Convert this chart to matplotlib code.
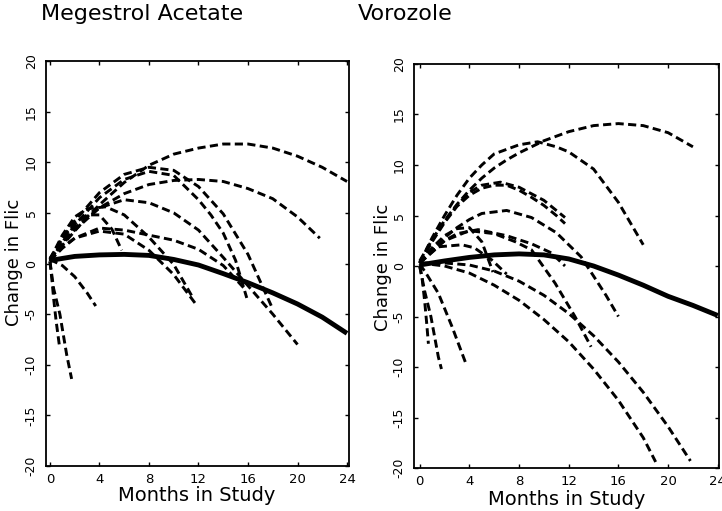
import matplotlib
matplotlib.use("Agg")
import matplotlib.pyplot as plt

# ---------------- data ----------------
xticks = [0, 4, 8, 12, 16, 20, 24]
yticks = [-20, -15, -10, -5, 0, 5, 10, 15, 20]
titles = ["Megestrol Acetate", "Vorozole"]
xlabel = "Months in Study"
ylabel = "Change in Flic"

# Megestrol Acetate: individual patient curves (dashed)
ma01_t = [0, 1, 2, 3, 4, 6, 8, 10, 12, 14, 16, 18, 20, 22, 24]
ma01_y = [0.5, 1.8, 3.2, 4.6, 5.8, 8.0, 9.7, 10.8, 11.4, 11.8, 11.8, 11.4, 10.6, 9.5, 8.1]
ma02_t = [0, 1, 2, 4, 6, 8, 10, 12, 14, 16, 18, 20, 21.8]
ma02_y = [0.3, 1.9, 3.3, 5.5, 6.9, 7.8, 8.2, 8.3, 8.1, 7.4, 6.4, 4.6, 2.5]
ma03_t = [0, 1, 2, 4, 6, 8, 10, 12, 14, 16, 18]
ma03_y = [0.5, 2.5, 4.2, 7.0, 8.8, 9.5, 9.2, 7.6, 4.9, 0.9, -4.5]
ma04_t = [0, 1, 2, 4, 6, 8, 10, 12, 13, 14, 15, 15.9]
ma04_y = [0.2, 2.1, 3.8, 6.5, 8.3, 9.1, 8.7, 6.3, 4.8, 3.0, 0.3, -3.4]
ma05_t = [0, 1, 2, 4, 6, 8, 10, 12, 14, 16, 18, 20]
ma05_y = [0.3, 2.0, 3.5, 5.5, 6.3, 6.0, 5.0, 3.3, 0.6, -2.2, -5.0, -8.0]
ma06_t = [0, 1, 2, 4, 6, 8, 10, 12, 14, 15.8]
ma06_y = [0.3, 1.5, 2.5, 3.5, 3.3, 2.8, 2.3, 1.4, -0.2, -2.6]
ma07_t = [0, 1, 2, 3, 4.5, 6, 8, 10, 11.6]
ma07_y = [0.4, 2.8, 4.6, 5.4, 5.6, 4.8, 2.6, -0.1, -3.5]
ma08_t = [0, 1, 2, 4, 6, 8, 10, 11.9]
ma08_y = [0.3, 1.6, 2.5, 3.2, 2.9, 1.3, -1.1, -4.2]
ma09_t = [0, 1, 2, 3, 4, 5, 5.8]
ma09_y = [0.4, 2.4, 3.9, 4.8, 4.8, 3.4, 1.3]
ma10_t = [0, 0.15, 0.3, 0.5, 0.75]
ma10_y = [0.2, -1.5, -3.5, -5.7, -8.0]
ma11_t = [0, 0.3, 0.8, 1.35, 1.75]
ma11_y = [0.2, -2.5, -5.0, -9.0, -11.4]
ma12_t = [0, 1, 2, 3, 3.7]
ma12_y = [0.4, -0.2, -1.3, -2.9, -4.2]
# Megestrol Acetate: mean curve (solid)
ma_mean_t = [0, 2, 4, 6, 8, 10, 12, 14, 16, 18, 20, 22, 24]
ma_mean_y = [0.3, 0.7, 0.85, 0.9, 0.8, 0.4, -0.15, -1.0, -1.9, -2.9, -4.0, -5.3, -6.9]

# Vorozole: individual patient curves (dashed)
vo01_t = [0, 1, 2, 3, 4, 5, 6, 7, 8, 9, 10, 12, 14, 16, 18, 20, 22]
vo01_y = [0.5, 2.6, 4.5, 6.1, 7.5, 8.7, 9.7, 10.5, 11.2, 11.8, 12.4, 13.3, 13.9, 14.1, 13.9, 13.2, 11.8]
vo02_t = [0, 1, 2, 3, 4, 5, 6, 8, 9.5, 11, 12, 14, 16, 18]
vo02_y = [0.3, 2.8, 5.0, 7.0, 8.7, 10.0, 11.1, 12.0, 12.3, 11.8, 11.3, 9.6, 6.3, 2.1]
vo03_t = [0, 1, 2, 3, 4, 5, 6.5, 8, 10, 11.7]
vo03_y = [0.3, 2.5, 4.4, 6.0, 7.3, 8.0, 8.3, 7.8, 6.5, 4.8]
vo04_t = [0, 1, 2, 3, 4, 5, 6, 7, 8, 9, 10, 11, 11.7]
vo04_y = [0.3, 2.4, 4.3, 5.9, 7.0, 7.7, 8.0, 8.0, 7.5, 6.8, 6.0, 5.0, 4.2]
vo05_t = [0, 1, 2, 3, 4, 5, 7, 9, 11, 13, 15, 16]
vo05_y = [0.3, 1.6, 2.8, 3.8, 4.6, 5.2, 5.5, 4.8, 3.3, 0.9, -2.9, -5.0]
vo06_t = [0, 1, 2, 3, 4.7, 7, 9, 10.6, 11.7]
vo06_y = [0.3, 1.5, 2.5, 3.2, 3.6, 3.0, 2.2, 1.3, 0.0]
vo07_t = [0, 2, 4, 6, 7.7, 9, 10.9, 12.5, 13.8]
vo07_y = [0.3, 2.5, 3.5, 3.2, 2.4, 1.6, -1.7, -5.0, -8.0]
vo08_t = [0, 1, 2, 3, 4, 5, 5.9]
vo08_y = [0.3, 1.8, 3.0, 3.7, 3.8, 2.4, -0.6]
vo09_t = [0, 1.5, 3.4, 4.4, 5.8, 7]
vo09_y = [0.3, 1.9, 2.1, 1.8, 0.6, -0.8]
vo10_t = [0, 2, 4, 6, 8, 10, 12, 14, 16, 18, 20, 21.8]
vo10_y = [0.3, 0.3, 0.1, -0.5, -1.5, -2.9, -4.7, -6.9, -9.5, -12.5, -15.9, -19.3]
vo11_t = [0, 2, 4, 6, 8, 10, 12, 14, 16, 18, 19]
vo11_y = [0.3, 0.0, -0.7, -1.9, -3.4, -5.3, -7.5, -10.2, -13.3, -17.0, -19.4]
vo12_t = [0, 0.2, 0.4, 0.55, 0.7]
vo12_y = [0.0, -1.3, -3.5, -5.5, -7.7]
vo13_t = [0, 0.4, 0.9, 1.5, 1.75]
vo13_y = [0.0, -2.5, -5.0, -9.0, -10.2]
vo14_t = [0, 0.5, 1.5, 2.6, 3.7]
vo14_y = [0.2, -0.7, -2.7, -6.0, -9.6]
# Vorozole: mean curve (solid)
vo_mean_t = [0, 2, 4, 6, 8, 10, 12, 14, 16, 18, 20, 22, 24]
vo_mean_y = [0.1, 0.5, 0.85, 1.1, 1.2, 1.1, 0.7, 0.0, -0.9, -1.9, -3.0, -3.9, -4.9]

ma_curves = [(ma01_t, ma01_y), (ma02_t, ma02_y), (ma03_t, ma03_y), (ma04_t, ma04_y),
             (ma05_t, ma05_y), (ma06_t, ma06_y), (ma07_t, ma07_y), (ma08_t, ma08_y),
             (ma09_t, ma09_y), (ma10_t, ma10_y), (ma11_t, ma11_y), (ma12_t, ma12_y)]
vo_curves = [(vo01_t, vo01_y), (vo02_t, vo02_y), (vo03_t, vo03_y), (vo04_t, vo04_y),
             (vo05_t, vo05_y), (vo06_t, vo06_y), (vo07_t, vo07_y), (vo08_t, vo08_y),
             (vo09_t, vo09_y), (vo10_t, vo10_y), (vo11_t, vo11_y), (vo12_t, vo12_y),
             (vo13_t, vo13_y), (vo14_t, vo14_y)]

# ---------------- figure ----------------
W, H = 722, 511
fig = plt.figure(figsize=(W / 100, H / 100), dpi=100)
fig.patch.set_facecolor("white")

def px_rect(l, t, r, b):
    return [l / W, 1 - b / H, (r - l) / W, (b - t) / H]

axL = fig.add_axes(px_rect(46, 61, 349, 466))
axR = fig.add_axes(px_rect(414, 64, 719, 468))

panels = [
    (axL, ma_curves, (ma_mean_t, ma_mean_y), (-0.32, 24.16)),
    (axR, vo_curves, (vo_mean_t, vo_mean_y), (-0.46, 24.1)),
]

for ax, curves, mean, xl in panels:
    for t, y in curves:
        ax.plot(t, y, color="black", lw=2.1, ls=(0, (2.8, 1.5)),
                dash_capstyle="butt", dash_joinstyle="round")
    ax.plot(mean[0], mean[1], color="black", lw=3.5, solid_capstyle="butt",
            solid_joinstyle="round")
    ax.set_xlim(*xl)
    ax.set_ylim(-20, 20)
    ax.set_xticks(xticks)
    ax.set_yticks(yticks)
    ax.set_xticklabels([str(v) for v in xticks], fontsize=9.5)
    ax.set_yticklabels([str(v) for v in yticks], fontsize=9, rotation=90,
                       va="center")
    ax.tick_params(direction="in", length=3, width=1, top=True, right=True)
    ax.tick_params(axis="x", pad=5)
    ax.tick_params(axis="y", pad=6)
    for s in ax.spines.values():
        s.set_linewidth(1.3)
        s.set_color("black")

# titles and axis labels placed as in the picture
fig.text(142 / W, 1 - 14 / H, titles[0], fontsize=16, ha="center", va="center")
fig.text(405 / W, 1 - 14 / H, titles[1], fontsize=16, ha="center", va="center")
fig.text(197 / W, 1 - 495 / H, xlabel, fontsize=14, ha="center", va="center")
fig.text(567 / W, 1 - 499 / H, xlabel, fontsize=14, ha="center", va="center")
fig.text(14 / W, 1 - 262 / H, ylabel, fontsize=13, ha="center", va="center", rotation=90)
fig.text(383 / W, 1 - 267 / H, ylabel, fontsize=13, ha="center", va="center", rotation=90)

fig.savefig("out.png", dpi=100, facecolor="white")
